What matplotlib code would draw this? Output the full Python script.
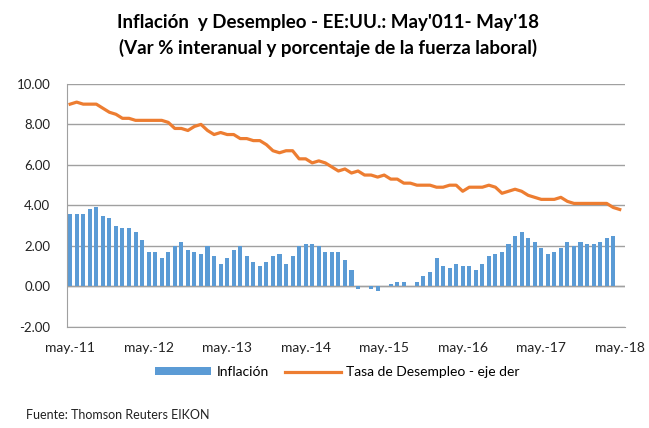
import numpy as np
import matplotlib
matplotlib.use("Agg")
import matplotlib.pyplot as plt

plt.rcParams['font.family'] = ['Lato', 'DejaVu Sans']

# monthly data, May 2011 .. May 2018
inflacion = [3.6, 3.6, 3.6, 3.8, 3.9, 3.5, 3.4, 3.0,
             2.9, 2.9, 2.7, 2.3, 1.7, 1.7, 1.4, 1.7, 2.0, 2.2, 1.8, 1.7,
             1.6, 2.0, 1.5, 1.1, 1.4, 1.8, 2.0, 1.5, 1.2, 1.0, 1.2, 1.5,
             1.6, 1.1, 1.5, 2.0, 2.1, 2.1, 2.0, 1.7, 1.7, 1.7, 1.3, 0.8,
             -0.1, 0.0, -0.1, -0.2, 0.0, 0.1, 0.2, 0.2, 0.0, 0.2, 0.5, 0.7,
             1.4, 1.0, 0.9, 1.1, 1.0, 1.0, 0.8, 1.1, 1.5, 1.6, 1.7, 2.1,
             2.5, 2.7, 2.4, 2.2, 1.9, 1.6, 1.7, 1.9, 2.2, 2.0, 2.2, 2.1,
             2.1, 2.2, 2.4, 2.5, np.nan]

desempleo = [9.0, 9.1, 9.0, 9.0, 9.0, 8.8, 8.6, 8.5,
             8.3, 8.3, 8.2, 8.2, 8.2, 8.2, 8.2, 8.1, 7.8, 7.8, 7.7, 7.9,
             8.0, 7.7, 7.5, 7.6, 7.5, 7.5, 7.3, 7.3, 7.2, 7.2, 7.0, 6.7,
             6.6, 6.7, 6.7, 6.3, 6.3, 6.1, 6.2, 6.1, 5.9, 5.7, 5.8, 5.6,
             5.7, 5.5, 5.5, 5.4, 5.5, 5.3, 5.3, 5.1, 5.1, 5.0, 5.0, 5.0,
             4.9, 4.9, 5.0, 5.0, 4.7, 4.9, 4.9, 4.9, 5.0, 4.9, 4.6, 4.7,
             4.8, 4.7, 4.5, 4.4, 4.3, 4.3, 4.3, 4.4, 4.2, 4.1, 4.1, 4.1,
             4.1, 4.1, 4.1, 3.9, 3.8]

tick_labels = ['may.-11', 'may.-12', 'may.-13', 'may.-14',
               'may.-15', 'may.-16', 'may.-17', 'may.-18']

x = np.arange(len(desempleo))

fig = plt.figure(figsize=(6.49, 4.28), dpi=100)
ax = fig.add_axes([0.103, 0.236, 0.86, 0.568])

bars = ax.bar(x, inflacion, width=0.62, color='#5B9BD5', label='Inflación', zorder=2)
line, = ax.plot(x, desempleo, color='#ED7D31', lw=2.3,
                label='Tasa de Desempleo - eje der', zorder=3)

ax.set_ylim(-2, 10)
ax.set_yticks(np.arange(-2, 10.1, 2))
ax.set_yticklabels(['%.2f' % v for v in np.arange(-2, 10.1, 2)])
ax.set_xlim(-0.5, 84.8)
ax.set_xticks(np.arange(0, 85, 12))
ax.set_xticklabels(tick_labels)
ax.grid(axis='y', color='#A0A0A0', lw=1.0, zorder=0)
ax.axhline(0, color='#A0A0A0', lw=1.0, zorder=1)

for s in ['top', 'right']:
    ax.spines[s].set_visible(False)
ax.spines['left'].set_color('#A0A0A0')
ax.spines['bottom'].set_color('#A0A0A0')
ax.tick_params(length=0, labelsize=9.5, colors='#222222')
ax.tick_params(axis='y', pad=12)
ax.tick_params(axis='x', pad=11, labelsize=10)

fig.text(0.506, 0.948, "Inflación  y Desempleo - EE:UU.: May'011- May'18",
         ha='center', va='center', fontsize=13.5, fontweight='bold')
fig.text(0.506, 0.888, "(Var % interanual y porcentaje de la fuerza laboral)",
         ha='center', va='center', fontsize=13.5, fontweight='bold')

fig.legend([bars, line], ['Inflación', 'Tasa de Desempleo - eje der'],
           loc='center', bbox_to_anchor=(0.52, 0.13), ncol=2, frameon=False,
           fontsize=10, handlelength=4, handleheight=0.5,
           columnspacing=1.2, handletextpad=0.4)

fig.text(0.04, 0.02, 'Fuente: Thomson Reuters EIKON', fontsize=9, color='#222222')

fig.savefig('out.png', dpi=100)
